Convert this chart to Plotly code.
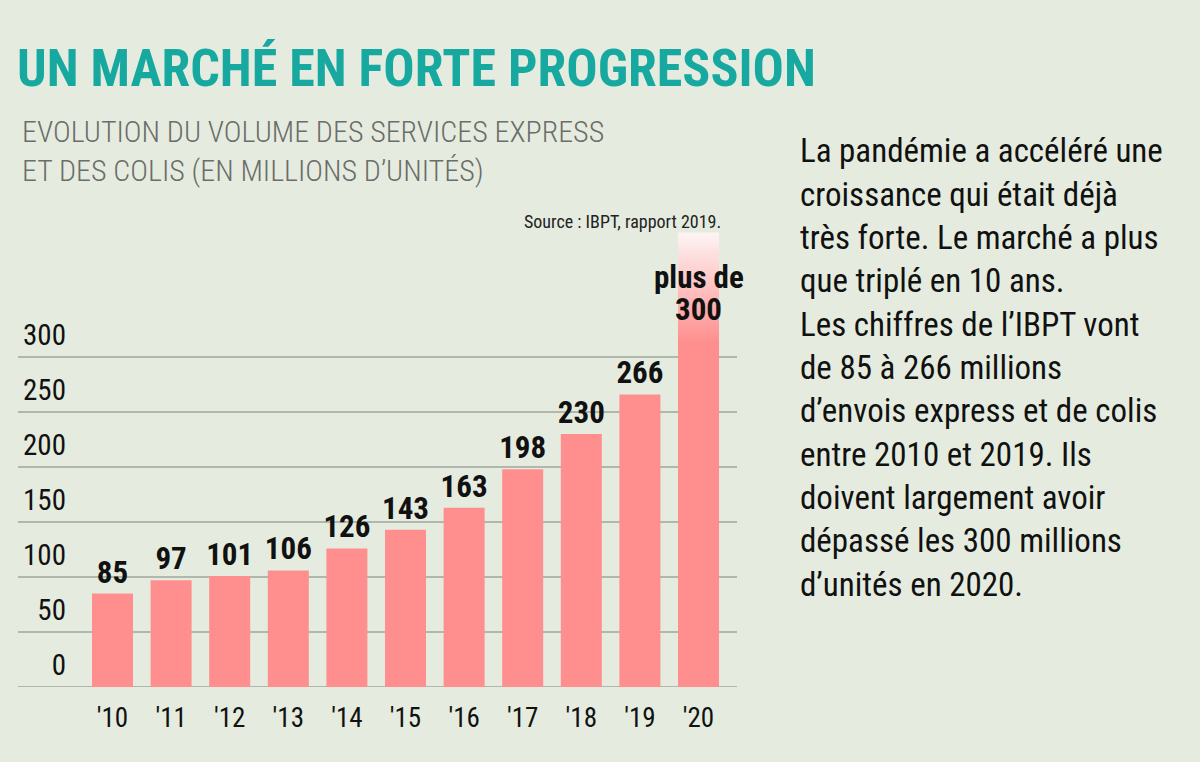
import plotly.graph_objects as go

# ---------------- data ----------------
years = ["'10", "'11", "'12", "'13", "'14", "'15", "'16", "'17", "'18", "'19", "'20"]
values = [85, 97, 101, 106, 126, 143, 163, 198, 230, 266, 300]
value_labels = ["85", "97", "101", "106", "126", "143", "163", "198", "230", "266", "plus de<br>300"]
fade_top = 413          # visual extent of the faded 2020 bar
y_ticks = [0, 50, 100, 150, 200, 250, 300]

title = "UN MARCHÉ EN FORTE PROGRESSION"
subtitle_lines = ["EVOLUTION DU VOLUME DES SERVICES EXPRESS",
                  "ET DES COLIS (EN MILLIONS D’UNITÉS)"]
source = "Source : IBPT, rapport 2019."
paragraph_lines = [
    "La pandémie a accéléré une",
    "croissance qui était déjà",
    "très forte. Le marché a plus",
    "que triplé en 10 ans.",
    "Les chiffres de l’IBPT vont",
    "de 85 à 266 millions",
    "d’envois express et de colis",
    "entre 2010 et 2019. Ils",
    "doivent largement avoir",
    "dépassé les 300 millions",
    "d’unités en 2020.",
]

# ---------------- style ----------------
BG = "#e5ecdf"
PINK = (255, 143, 143)
TOP = (253, 244, 244)
TEAL = "#17a9a0"
GRID = "#9ea69d"
FONT = "Roboto Condensed, Roboto, sans-serif"

W, H = 1200, 762
L, R, T, B = 80, 737, 230, 687   # plot area in pixels


def px(x):
    return (x - L) / (R - L)


def py(y):
    return (B - y) / (B - T)


xs = list(range(len(years)))
fig = go.Figure()

# main bars
main_text = value_labels[:-1] + [""]
fig.add_trace(go.Bar(
    x=xs, y=values, text=main_text, textposition="outside",
    textfont=dict(family=FONT, size=31, color="#111111", weight="bold"),
    marker=dict(color="rgb(%d,%d,%d)" % PINK, line=dict(width=0)),
    cliponaxis=False, constraintext="none", hoverinfo="skip",
))

# faded extension of the last bar (overlapping thin segments)
N = 40
last = values[-1]
step = (fade_top - last) / N
fb, fy, fc = [], [], []
for k in range(N):
    t = (k + 0.5) / N
    t = max(0.0, (t - 0.12) / 0.88)
    c = tuple(round(PINK[i] * (1 - t) + TOP[i] * t) for i in range(3))
    fb.append(last + k * step)
    fy.append(min(step * 2.5, fade_top - (last + k * step)))
    fc.append("rgb(%d,%d,%d)" % c)
fig.add_trace(go.Bar(
    x=[xs[-1]] * N, y=fy, base=fb,
    marker=dict(color=fc, line=dict(width=0)), hoverinfo="skip",
))

# gridlines (extend to the left of the plot area)
for v in y_ticks:
    fig.add_shape(type="line", xref="paper", yref="y", x0=px(18), x1=1,
                  y0=v, y1=v, line=dict(color=GRID, width=1.6), layer="below")

annotations = [
    dict(text=title, x=px(15), y=py(68), xanchor="left", yanchor="middle",
         font=dict(family=FONT, size=52, color=TEAL, weight="bold")),
    dict(text=source, x=px(723), y=py(221), xanchor="right", yanchor="middle",
         font=dict(family=FONT, size=18, color="#222222")),
]
for i, line in enumerate(subtitle_lines):
    annotations.append(dict(text=line, x=px(20), y=py(132 + 38 * i),
                            xanchor="left", yanchor="middle",
                            font=dict(family=FONT, size=30, color="#6b6d6a", weight=300)))
for i, line in enumerate(paragraph_lines):
    annotations.append(dict(text=line, x=px(798), y=py(151 + 43.3 * i),
                            xanchor="left", yanchor="middle",
                            font=dict(family=FONT, size=33, color="#111111")))
last_parts = value_labels[-1].split("<br>")
for i, part in enumerate(reversed(last_parts)):
    annotations.append(dict(text=part, x=xs[-1], y=last, xref="x", yref="y",
                            xanchor="center", yanchor="bottom", yshift=27 + 32 * i,
                            font=dict(family=FONT, size=31, color="#111111", weight="bold")))
for a in annotations:
    a.setdefault("xref", "paper")
    a.setdefault("yref", "paper")
    a["showarrow"] = False

pitch = 58.6
c0 = 112.5
fig.update_layout(
    width=W, height=H,
    margin=dict(l=L, r=W - R, t=T, b=H - B, pad=0),
    paper_bgcolor=BG, plot_bgcolor=BG,
    barmode="overlay", bargap=0.3, showlegend=False,
    annotations=annotations,
    xaxis=dict(
        range=[(L - c0) / pitch, (R - c0) / pitch],
        tickvals=xs, ticktext=years, showgrid=False, zeroline=False,
        showline=False, ticks="", ticklabelstandoff=12,
        tickfont=dict(family=FONT, size=27, color="#111111"),
    ),
    yaxis=dict(
        range=[0, (B - T) / 1.1], tickvals=y_ticks, showgrid=False,
        zeroline=False, showline=False, ticks="",
        ticklabelshift=-22, ticklabelstandoff=13,
        tickfont=dict(family=FONT, size=29, color="#111111"),
    ),
)

fig.write_html("out.html", config={"displayModeBar": False},
               post_script="document.body.style.margin='0px';")
